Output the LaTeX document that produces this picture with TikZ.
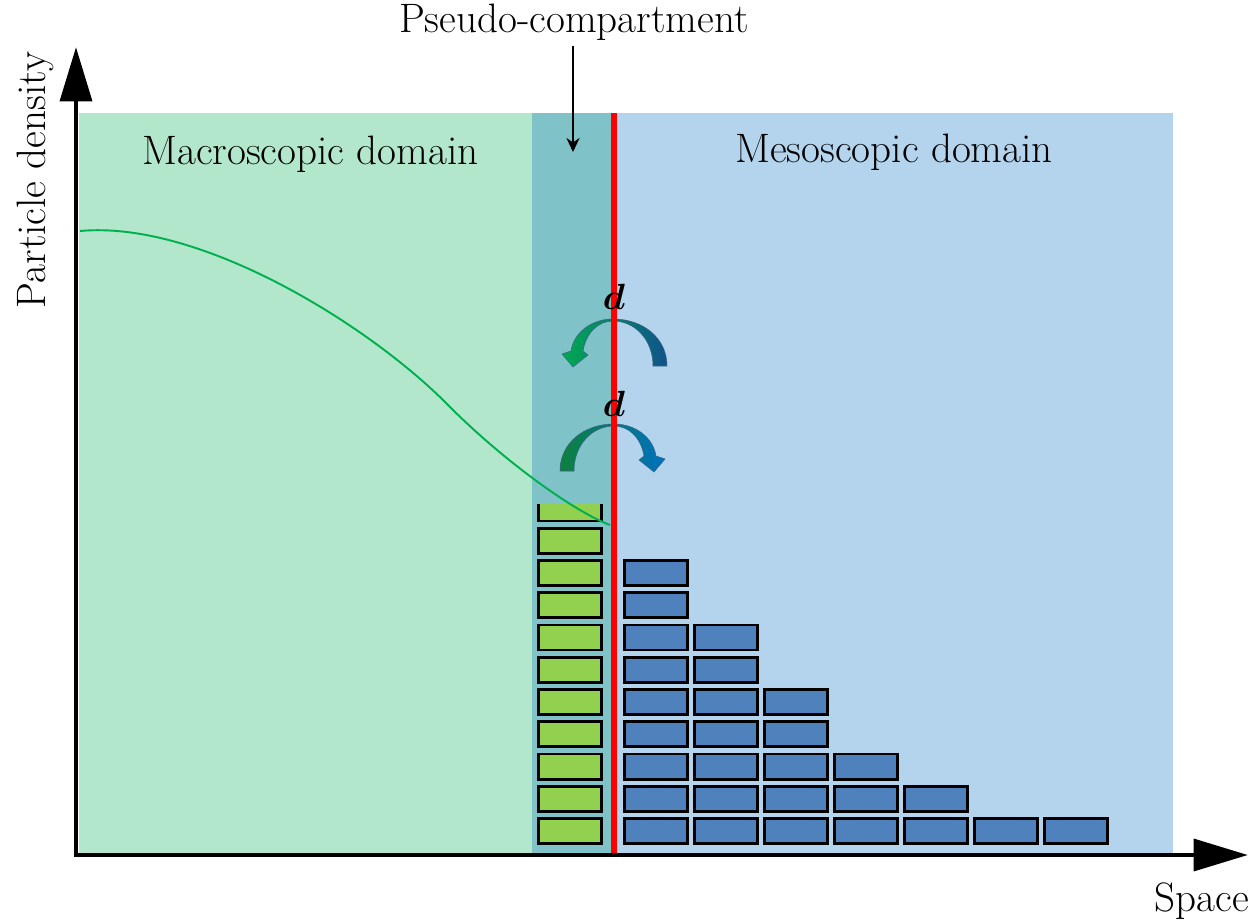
\documentclass[tikz,border=0pt]{standalone}
\usepackage{amsmath}
\usetikzlibrary{arrows.meta}
\definecolor{macrogreen}{RGB}{179,231,203}
\definecolor{pseudoteal}{RGB}{127,195,200}
\definecolor{mesoblue}{RGB}{179,212,236}
\definecolor{cellgreen}{RGB}{146,208,80}
\definecolor{cellblue}{RGB}{79,129,189}
\definecolor{curvegreen}{RGB}{0,176,80}
\definecolor{fluxgreenA}{RGB}{0,170,80}
\definecolor{fluxblueA}{RGB}{16,82,140}
\definecolor{fluxgreenB}{RGB}{12,128,60}
\definecolor{fluxblueB}{RGB}{0,112,192}
\definecolor{fluxedge}{RGB}{60,100,130}
\tikzset{
	cell/.style={draw=black, line width=1.7pt},
	domaintext/.style={font=\fontsize{23.4}{28}\selectfont, inner sep=0pt},
	fluxtext/.style={font=\fontsize{21}{25}\selectfont, inner sep=0pt},
	axis/.style={line width=2.8pt, -{Triangle[length=31pt,width=18pt]}},
	flux/.style={draw=fluxedge, line width=0.3pt},
}

\begin{document}
\begin{tikzpicture}[x=0.02cm, y=-0.02cm]
				\useasboundingbox (0,0) rectangle (1254,922);
				
				% domains
				\fill[macrogreen] (79,113) rectangle (532,853);
				\fill[pseudoteal] (532,113) rectangle (614,853);
				\fill[mesoblue] (614,113) rectangle (1173,853);
				
				\node[domaintext, anchor=base] (macro) at (310.5,165) {Macroscopic domain};
				\node[domaintext, anchor=base] (meso) at (894,163) {Mesoscopic domain};
				\node[domaintext, anchor=base] (pseudo) at (574,33) {Pseudo-compartment};
				\coordinate (pseudotip) at (573,152);
				\draw[line width=1.1pt, -{Stealth[length=8pt,width=7.5pt]}] (pseudotip |- pseudo.south) ++(0,5) -- (pseudotip);
				
				% green cells (clipped at the top)
				\begin{scope}
					\clip (530,504) rectangle (610,850);
					\foreach \k in {0,...,10}
						\draw[cell, fill=cellgreen] (538.5,818.5-32.25*\k) rectangle (601.5,843.5-32.25*\k);
				\end{scope}
				
				% blue cells
				\foreach \c/\n in {0/9,1/7,2/5,3/3,4/2,5/1,6/1}
					\foreach \k in {1,...,\n}
						\draw[cell, fill=cellblue] (624.5+70*\c,850.75-32.25*\k) rectangle (687.5+70*\c,875.75-32.25*\k);
				
				\draw[curvegreen, line width=1.1pt] (80,231) .. controls (200,220) and (370,325) .. (450,407) .. controls (505,462) and (575,512) .. (610,525);
				
				% exchange arrows
				\shadedraw[flux, left color=fluxgreenA, right color=fluxblueA] (667,366) .. controls (667,338) and (643,319) .. (613,319) .. controls (592,319) and (574,332) .. (571,351) -- (562,354) -- (573,367) -- (588,355) -- (583,351) .. controls (586,333) and (598,321) .. (613,321) .. controls (635,321) and (653,340) .. (653,366) -- cycle;
				\shadedraw[flux, left color=fluxgreenB, right color=fluxblueB] (560,471) .. controls (560,443) and (584,424) .. (614,424) .. controls (635,424) and (653,437) .. (656,456) -- (665,459) -- (654,472) -- (639,460) -- (644,456) .. controls (641,438) and (629,426) .. (614,426) .. controls (592,426) and (574,445) .. (574,471) -- cycle;
				
				\draw[red, line width=3.4pt] (614,113) -- (614,855);
				
				\node[fluxtext] (dout) at (614,297) {$\boldsymbol{d}$};
				\node[fluxtext] (din) at (614,404) {$\boldsymbol{d}$};
				
				% axes
				\draw[axis] (76,857) -- (76,47);
				\draw[axis] (74,855) -- (1248,855);
				\node[domaintext, rotate=90] (ylab) at (35,180) {Particle density};
				\node[domaintext, anchor=base] (xlab) at (1202,911) {Space};
			\end{tikzpicture}
\end{document}
